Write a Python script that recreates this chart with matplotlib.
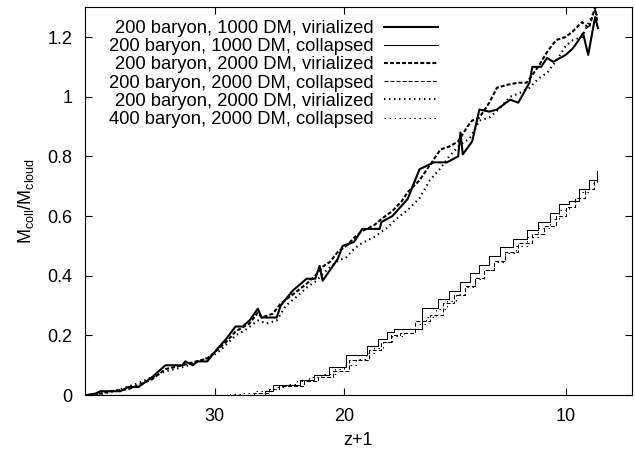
import matplotlib
matplotlib.use("Agg")
import matplotlib.pyplot as plt
from matplotlib.ticker import FixedLocator, NullLocator

# (z+1, M_coll/M_cloud)
vir_1000_z = [44.8, 43.6, 42.9, 40.3, 39.3, 38.1, 36.5, 35.0, 33.2, 32.9, 32.1, 31.7, 30.7,
              29.8, 28.9, 28.1, 27.5, 26.9, 26.2, 25.9, 24.7, 24.4, 23.5, 22.5, 21.9, 21.6,
              21.4, 20.4, 20.1, 19.4, 18.9, 17.9, 17.8, 17.2, 16.4, 15.8, 15.1, 14.5, 14.0,
              13.9, 13.8, 13.4, 13.1, 12.7, 12.4, 11.9, 11.6, 11.2, 11.1, 10.8, 10.6, 10.4,
              10.0, 9.77, 9.6, 9.47, 9.32, 9.12, 9.04]
vir_1000_m = [0.0, 0.005, 0.013, 0.013, 0.027, 0.027, 0.06, 0.1, 0.1, 0.113, 0.1, 0.113, 0.113,
              0.153, 0.19, 0.23, 0.23, 0.25, 0.29, 0.26, 0.26, 0.3, 0.35, 0.39, 0.39, 0.433,
              0.383, 0.457, 0.5, 0.513, 0.557, 0.557, 0.58, 0.6, 0.657, 0.757, 0.78, 0.78, 0.8,
              0.88, 0.807, 0.85, 0.957, 0.95, 0.957, 0.99, 0.98, 1.047, 1.1, 1.1, 1.13, 1.117,
              1.14, 1.163, 1.19, 1.213, 1.14, 1.267, 1.23]

vir_2000_z = [44.8, 43.0, 41.6, 39.3, 38.1, 36.5, 35.0, 33.2, 32.1, 30.7, 29.8, 28.9, 28.1,
              27.5, 26.9, 26.2, 25.9, 25.0, 24.4, 23.5, 22.5, 21.9, 21.4, 20.9, 20.4, 19.8,
              19.4, 18.9, 18.2, 17.8, 17.2, 16.7, 16.4, 15.8, 15.3, 14.8, 14.4, 14.0, 13.6,
              13.4, 13.1, 12.7, 12.4, 12.0, 11.6, 11.3, 10.9, 10.6, 10.3, 10.0, 9.77, 9.5,
              9.3, 9.12, 9.06]
vir_2000_m = [0.0, 0.005, 0.013, 0.02, 0.033, 0.053, 0.087, 0.1, 0.11, 0.123, 0.15, 0.18, 0.213,
              0.227, 0.24, 0.277, 0.26, 0.273, 0.307, 0.337, 0.373, 0.4, 0.43, 0.447, 0.48, 0.503,
              0.527, 0.55, 0.57, 0.59, 0.617, 0.65, 0.68, 0.72, 0.77, 0.823, 0.833, 0.85, 0.9,
              0.92, 0.93, 0.98, 1.03, 1.04, 1.047, 1.047, 1.1, 1.15, 1.19, 1.2, 1.22, 1.25,
              1.23, 1.3, 1.25]

vir_2000b_z = [44.8, 43.0, 41.6, 40.3, 38.1, 36.5, 35.0, 33.6, 32.5, 31.0, 29.8, 28.9, 28.1,
               27.2, 26.2, 25.5, 24.7, 24.0, 23.2, 22.5, 21.9, 21.1, 20.4, 19.9, 19.4, 18.9,
               18.2, 17.5, 17.0, 16.4, 15.8, 15.3, 14.8, 14.4, 13.9, 13.5, 13.1, 12.7, 12.3,
               11.9, 11.6, 11.2, 10.9, 10.6, 10.3, 10.0, 9.77, 9.5, 9.3, 9.12, 9.04]
vir_2000b_m = [0.0, 0.003, 0.01, 0.02, 0.04, 0.06, 0.08, 0.09, 0.1, 0.12, 0.14, 0.17, 0.2,
               0.22, 0.25, 0.24, 0.25, 0.3, 0.33, 0.36, 0.38, 0.42, 0.45, 0.46, 0.49, 0.51,
               0.53, 0.56, 0.59, 0.62, 0.66, 0.72, 0.76, 0.8, 0.84, 0.86, 0.92, 0.93, 0.96,
               1.0, 1.01, 1.03, 1.06, 1.08, 1.12, 1.17, 1.19, 1.2, 1.25, 1.29, 1.26]

col_1000_z = [45.0, 25.6, 25.0, 23.0, 22.0, 21.0, 19.9, 18.6, 18.0, 17.5, 17.1, 15.7, 14.9,
              14.4, 13.9, 13.5, 13.1, 12.7, 12.3, 11.8, 11.3, 10.9, 10.5, 10.2, 9.9, 9.6,
              9.3, 9.06]
col_1000_m = [0.0, 0.013, 0.033, 0.05, 0.067, 0.093, 0.133, 0.163, 0.187, 0.21, 0.22, 0.293,
              0.323, 0.35, 0.38, 0.41, 0.437, 0.467, 0.497, 0.523, 0.553, 0.58, 0.61, 0.64,
              0.65, 0.69, 0.72, 0.75]

col_2000_z = [45.0, 26.5, 25.3, 24.5, 22.7, 21.7, 20.7, 19.7, 18.5, 17.8, 17.3, 16.8, 16.0,
              15.3, 14.7, 14.2, 13.7, 13.3, 12.9, 12.5, 12.1, 11.6, 11.1, 10.7, 10.3, 10.0,
              9.7, 9.4, 9.15, 9.06]
col_2000_m = [0.0, 0.007, 0.02, 0.03, 0.047, 0.06, 0.08, 0.117, 0.15, 0.177, 0.2, 0.207, 0.25,
              0.27, 0.31, 0.337, 0.367, 0.393, 0.42, 0.45, 0.48, 0.51, 0.54, 0.567, 0.6, 0.63,
              0.66, 0.69, 0.72, 0.73]

col_400_z = [45.0, 28.6, 27.5, 26.5, 25.5, 24.8, 24.0, 23.2, 22.3, 21.5, 20.6, 20.0, 19.3,
             18.7, 18.2, 17.7, 17.2, 16.6, 16.0, 15.5, 15.0, 14.5, 14.1, 13.7, 13.3, 12.9,
             12.5, 12.1, 11.7, 11.3, 10.9, 10.5, 10.2, 9.9, 9.6, 9.3, 9.06]
col_400_m = [0.0, 0.003, 0.007, 0.013, 0.02, 0.027, 0.037, 0.047, 0.06, 0.07, 0.087, 0.1, 0.12,
             0.14, 0.157, 0.177, 0.197, 0.22, 0.24, 0.263, 0.29, 0.317, 0.34, 0.363, 0.39, 0.42,
             0.447, 0.477, 0.5, 0.53, 0.56, 0.59, 0.62, 0.65, 0.68, 0.71, 0.73]

labels = ["200 baryon, 1000 DM, virialized",
          "200 baryon, 1000 DM, collapsed",
          "200 baryon, 2000 DM, virialized",
          "200 baryon, 2000 DM, collapsed",
          "200 baryon, 2000 DM, virialized",
          "400 baryon, 2000 DM, collapsed"]

x_ticks = [30, 20, 10]
y_ticks = [0, 0.2, 0.4, 0.6, 0.8, 1.0, 1.2]
y_ticklabels = ["0", "0.2", "0.4", "0.6", "0.8", "1", "1.2"]

plt.rcParams["font.family"] = ["Liberation Sans", "DejaVu Sans"]
plt.rcParams["font.size"] = 13
plt.rcParams["mathtext.default"] = "regular"

fig = plt.figure(figsize=(6.35, 4.49), dpi=100)
ax = fig.add_axes([0.134, 0.12, 0.861, 0.864])

thick, thin = 1.5, 0.75
dash_thick = (0, (1.9, 1.0))
dash_thin = (0, (3.8, 2.0))
dot_thick = (0, (0.7, 1.7))
dot_thin = (0, (1.4, 3.4))

lines = []
lines += ax.plot(vir_1000_z, vir_1000_m, color="black", lw=thick, ls="-")
lines += ax.plot(col_1000_z, col_1000_m, color="black", lw=thin, ls="-", drawstyle="steps-post")
lines += ax.plot(vir_2000_z, vir_2000_m, color="black", lw=thick, ls=dash_thick)
lines += ax.plot(col_2000_z, col_2000_m, color="black", lw=thin, ls=dash_thin, drawstyle="steps-post")
lines += ax.plot(vir_2000b_z, vir_2000b_m, color="black", lw=thick, ls=dot_thick)
lines += ax.plot(col_400_z, col_400_m, color="black", lw=thin, ls=dot_thin, drawstyle="steps-post")

ax.set_xscale("log")
ax.set_xlim(45, 8.13)
ax.set_ylim(0, 1.3)
ax.xaxis.set_major_locator(FixedLocator(x_ticks))
ax.xaxis.set_minor_locator(NullLocator())
ax.set_xticklabels([str(t) for t in x_ticks])
ax.set_yticks(y_ticks)
ax.set_yticklabels(y_ticklabels)
ax.tick_params(direction="in", length=5, width=0.8, top=True, right=True, pad=9)
ax.tick_params(axis="x", pad=9)
for s in ax.spines.values():
    s.set_linewidth(0.8)

ax.set_xlabel("z+1", labelpad=5)
ax.set_ylabel("$M_{coll}/M_{cloud}$", labelpad=8)

ax.legend(lines, labels, loc="upper right", bbox_to_anchor=(0.645, 0.967),
          frameon=False, markerfirst=False, handlelength=2.95, handletextpad=0.55,
          labelspacing=0.065, borderpad=0, borderaxespad=0, fontsize=13.2)

plt.savefig("out.png", dpi=100)
